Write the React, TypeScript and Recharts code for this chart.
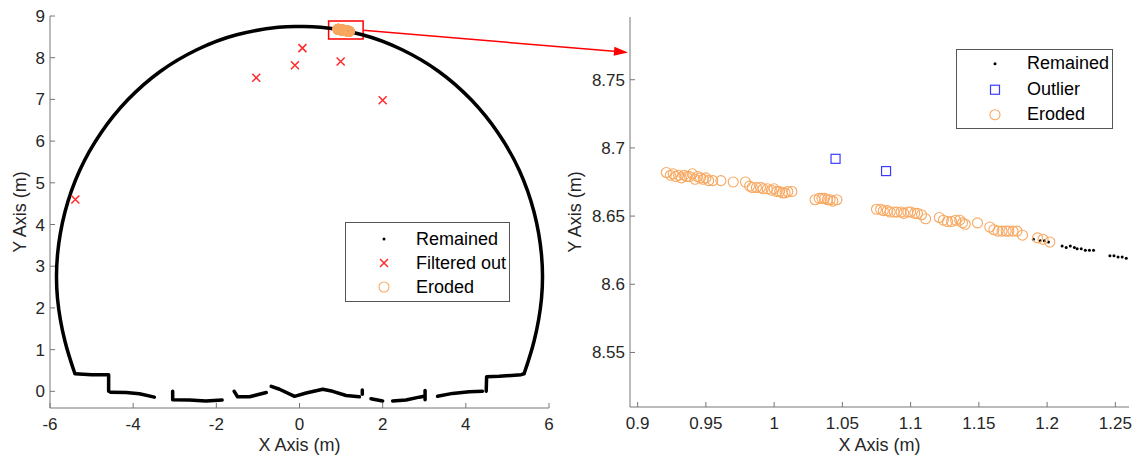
import React from 'react';
import { ScatterChart, Scatter, XAxis, YAxis, ReferenceArea } from 'recharts';

const FONT = '"Liberation Sans", Arial, Helvetica, sans-serif';
const TEXT = '#262626';
const AXIS = '#767676';
const ORANGE = '#f8a860';
const RED = '#ff2a2a';
const BLUE = '#3c3cff';

// ---- left panel: full tunnel cross-section (x, y in m) ----
const ARC: [number, number][] = [
  [-5.4, 0.42], [-5.64, 1.2], [-5.82, 2.23], [-5.82, 3.27], [-5.64, 4.3], [-5.29, 5.29],
  [-4.78, 6.19], [-4.13, 6.99], [-3.35, 7.67], [-2.47, 8.19], [-1.51, 8.55], [-0.51, 8.73],
  [0, 8.75], [0.51, 8.73], [1.51, 8.55], [2.47, 8.19], [3.35, 7.67], [4.13, 6.99],
  [4.78, 6.19], [5.29, 5.29], [5.64, 4.3], [5.82, 3.27], [5.82, 2.23], [5.64, 1.2], [5.4, 0.42],
];

const FLOOR: [number, number][][] = [
  [[-5.4, 0.42], [-5.0, 0.4], [-4.59, 0.4], [-4.59, 0.0]],
  [[-4.55, -0.02], [-4.17, -0.03], [-3.85, -0.06], [-3.49, -0.14]],
  [[-3.05, 0.0], [-3.05, -0.2], [-2.65, -0.21], [-2.25, -0.23], [-1.86, -0.21]],
  [[-1.57, 0.0], [-1.49, -0.13], [-1.2, -0.13], [-0.8, -0.03]],
  [[-0.68, 0.12], [-0.48, 0.05], [-0.12, -0.12], [0.16, -0.04], [0.56, 0.05], [0.8, 0.0], [1.12, -0.1], [1.44, -0.13]],
  [[1.51, 0.03], [1.51, -0.07]],
  [[1.72, -0.18], [2.0, -0.23]],
  [[2.24, -0.23], [2.56, -0.21], [2.88, -0.14], [3.0, -0.12]],
  [[3.02, 0.02], [3.02, -0.2]],
  [[3.32, -0.12], [3.68, -0.05], [4.08, -0.01], [4.4, 0.0]],
  [[4.49, 0.0], [4.5, 0.35], [4.8, 0.36], [5.33, 0.4], [5.4, 0.42]],
];

const FILTERED: [number, number][] = [
  [-5.39, 4.6], [-1.04, 7.52], [-0.11, 7.82], [0.07, 8.23], [0.99, 7.91], [2.0, 6.98],
];

// ---- right panel: zoomed crown region ----
const ERODED: [number, number][] = [
  [0.921, 8.682], [0.924, 8.68], [0.926, 8.681], [0.928, 8.679], [0.93, 8.68], [0.932, 8.678],
  [0.934, 8.68], [0.936, 8.679], [0.938, 8.679], [0.94, 8.681], [0.942, 8.677], [0.944, 8.679],
  [0.946, 8.678], [0.948, 8.677], [0.95, 8.678], [0.952, 8.676], [0.955, 8.676], [0.961, 8.676],
  [0.97, 8.675],
  [0.979, 8.675], [0.982, 8.672], [0.984, 8.671], [0.987, 8.671], [0.99, 8.671], [0.992, 8.67],
  [0.995, 8.67], [0.998, 8.669], [1.0, 8.67], [1.002, 8.668], [1.004, 8.668], [1.006, 8.667],
  [1.008, 8.667], [1.01, 8.668], [1.013, 8.668],
  [1.03, 8.662], [1.033, 8.663], [1.035, 8.663], [1.037, 8.663], [1.039, 8.662], [1.041, 8.662],
  [1.043, 8.661], [1.046, 8.662],
  [1.075, 8.655], [1.078, 8.655], [1.08, 8.654], [1.083, 8.654], [1.085, 8.653], [1.088, 8.653],
  [1.09, 8.653], [1.093, 8.653], [1.095, 8.652], [1.098, 8.653], [1.1, 8.653], [1.103, 8.652],
  [1.105, 8.652], [1.108, 8.651], [1.111, 8.648],
  [1.121, 8.649], [1.124, 8.647], [1.127, 8.646], [1.13, 8.646], [1.133, 8.647], [1.136, 8.647],
  [1.138, 8.645], [1.14, 8.644], [1.149, 8.645],
  [1.158, 8.642], [1.161, 8.64], [1.164, 8.639], [1.167, 8.639], [1.17, 8.639], [1.172, 8.639],
  [1.175, 8.639], [1.178, 8.639], [1.182, 8.636],
  [1.193, 8.634], [1.197, 8.633], [1.202, 8.631],
];

const OUTLIERS: [number, number][] = [[1.045, 8.692], [1.082, 8.683]];

const REMAINED_ZOOM: [number, number][] = [
  [1.19, 8.633], [1.195, 8.632], [1.198, 8.632], [1.201, 8.631],
  [1.211, 8.628], [1.214, 8.627], [1.217, 8.628], [1.22, 8.627], [1.222, 8.626], [1.225, 8.626],
  [1.228, 8.625], [1.231, 8.625], [1.234, 8.625],
  [1.246, 8.621], [1.249, 8.621], [1.252, 8.62], [1.255, 8.62], [1.258, 8.619],
];

const LEFT_X_DOMAIN = [-6, 6];
const LEFT_Y_DOMAIN = [-0.4, 9];
const LEFT_X_TICKS = [-6, -4, -2, 0, 2, 4, 6];
const LEFT_Y_TICKS = [0, 1, 2, 3, 4, 5, 6, 7, 8, 9];
const ZOOM_X_DOMAIN = [0.8944, 1.26];
const ZOOM_Y_DOMAIN = [8.51, 8.796];
const ZOOM_X_TICKS = [0.9, 0.95, 1, 1.05, 1.1, 1.15, 1.2, 1.25];
const ZOOM_Y_TICKS = [8.55, 8.6, 8.65, 8.7, 8.75];
const ZOOM_BOX = { x1: 0.7, x2: 1.53, y1: 8.45, y2: 8.88 };

const toPts = (arr: [number, number][]) => arr.map(([x, y]) => ({ x, y }));

// plot rectangle of the left panel in page pixels, used for the connector arrow
const LEFT_PLOT = { left: 50, right: 549, top: 16, bottom: 408 };
const leftPx = (x: number, y: number) => ({
  x: LEFT_PLOT.left + (x - LEFT_X_DOMAIN[0]) / (LEFT_X_DOMAIN[1] - LEFT_X_DOMAIN[0]) * (LEFT_PLOT.right - LEFT_PLOT.left),
  y: LEFT_PLOT.top + (LEFT_Y_DOMAIN[1] - y) / (LEFT_Y_DOMAIN[1] - LEFT_Y_DOMAIN[0]) * (LEFT_PLOT.bottom - LEFT_PLOT.top),
});

const tickStyle = { fill: TEXT, fontSize: 17, fontFamily: FONT };

const Dot = (p: any) => <circle cx={p.cx} cy={p.cy} r={1.5} fill="#000" />;
const Cross = (p: any) => (
  <path d={`M${p.cx - 4},${p.cy - 4}L${p.cx + 4},${p.cy + 4}M${p.cx - 4},${p.cy + 4}L${p.cx + 4},${p.cy - 4}`}
    stroke={RED} strokeWidth={1.5} fill="none" />
);
const Ring = (p: any) => <circle cx={p.cx} cy={p.cy} r={5} fill="none" stroke={ORANGE} strokeWidth={1.1} />;
const Square = (p: any) => (
  <rect x={p.cx - 4.5} y={p.cy - 4.5} width={9} height={9} fill="none" stroke={BLUE} strokeWidth={1.2} />
);
const Nothing = () => <g />;

const XTitle = (props: any) => {
  const { x, width } = props.viewBox;
  return <text x={x + width / 2} y={451} textAnchor="middle" fill={TEXT} fontSize={18} fontFamily={FONT}>X Axis (m)</text>;
};
const YTitle = (cx: number) => (props: any) => {
  const { y, height } = props.viewBox;
  const cy = y + height / 2;
  return (
    <text x={cx} y={cy} transform={`rotate(-90 ${cx} ${cy})`} textAnchor="middle" fill={TEXT} fontSize={18} fontFamily={FONT}>
      Y Axis (m)
    </text>
  );
};

const axisCommon = {
  type: 'number' as const,
  allowDataOverflow: true,
  interval: 0 as const,
  axisLine: { stroke: AXIS },
  tickLine: { stroke: AXIS },
  tickSize: -5,
};

function LegendBox({ left, top, width, height, pad, rows, gap }: any) {
  return (
    <div style={{
      position: 'absolute', left, top, width, height,
      border: `1px solid #555`, background: '#fff', boxSizing: 'border-box',
    }}>
      {rows.map((r: any, i: number) => (
        <div key={r.label} style={{ position: 'absolute', left: 0, top: pad + i * gap, height: gap, display: 'flex', alignItems: 'center' }}>
          <svg width={70} height={gap} style={{ display: 'block' }}>
            {r.marker(38, gap / 2)}
          </svg>
          <span style={{ fontFamily: FONT, fontSize: 18, color: '#000' }}>{r.label}</span>
        </div>
      ))}
    </div>
  );
}

const m = (Shape: any) => (cx: number, cy: number) => <Shape cx={cx} cy={cy} />;

export default function App() {
  const from = leftPx(ZOOM_BOX.x2, 8.66);
  const tip = { x: 628, y: 52.5 };
  const dx = tip.x - from.x, dy = tip.y - from.y;
  const len = Math.hypot(dx, dy);
  const ux = dx / len, uy = dy / len;
  const bx = tip.x - 14 * ux, by = tip.y - 14 * uy;
  const head = `${tip.x},${tip.y} ${bx - 4.5 * uy},${by + 4.5 * ux} ${bx + 4.5 * uy},${by - 4.5 * ux}`;

  return (
    <div style={{ position: 'absolute', left: 0, top: 0, width: 1137, height: 455, background: '#fff', overflow: 'hidden' }}>
      <div style={{ position: 'absolute', left: 0, top: 0 }}>
        <ScatterChart width={560} height={455} margin={{ top: 16, right: 11, bottom: 0, left: 0 }}>
          <XAxis xAxisId="b" dataKey="x" {...axisCommon} domain={LEFT_X_DOMAIN} ticks={LEFT_X_TICKS}
            height={47} tick={tickStyle} tickMargin={15} label={<XTitle />} />
          <XAxis xAxisId="t" orientation="top" {...axisCommon} domain={LEFT_X_DOMAIN} ticks={LEFT_X_TICKS}
            height={0} tick={false} />
          <YAxis yAxisId="l" dataKey="y" {...axisCommon} domain={LEFT_Y_DOMAIN} ticks={LEFT_Y_TICKS}
            width={50} tick={tickStyle} tickMargin={10} label={YTitle(26)} />
          <YAxis yAxisId="r" orientation="right" {...axisCommon} domain={LEFT_Y_DOMAIN} ticks={LEFT_Y_TICKS}
            width={0} tick={false} />
          <Scatter xAxisId="b" yAxisId="l" data={toPts(ARC)} shape={Nothing} lineJointType="natural"
            line={{ stroke: '#000', strokeWidth: 3.5 }} isAnimationActive={false} />
          {FLOOR.map((seg, i) => (
            <Scatter key={i} xAxisId="b" yAxisId="l" data={toPts(seg)} shape={Nothing}
              line={{ stroke: '#000', strokeWidth: 3.5, strokeLinecap: 'round', strokeLinejoin: 'round' }}
              isAnimationActive={false} />
          ))}
          <Scatter xAxisId="b" yAxisId="l" data={toPts(FILTERED)} shape={Cross} isAnimationActive={false} />
          <Scatter xAxisId="b" yAxisId="l" data={toPts(ERODED)} shape={Ring} isAnimationActive={false} />
          <ReferenceArea xAxisId="b" yAxisId="l" {...ZOOM_BOX} fill="none" stroke="#ff0000" strokeWidth={1.5}
            ifOverflow="visible" />
        </ScatterChart>
      </div>

      <div style={{ position: 'absolute', left: 560, top: 0 }}>
        <ScatterChart width={577} height={455} margin={{ top: 17, right: 8, bottom: 0, left: 0 }}>
          <XAxis xAxisId="b" dataKey="x" {...axisCommon} domain={ZOOM_X_DOMAIN} ticks={ZOOM_X_TICKS}
            height={48} tick={tickStyle} tickMargin={15} label={<XTitle />} />
          <XAxis xAxisId="t" orientation="top" {...axisCommon} domain={ZOOM_X_DOMAIN} ticks={ZOOM_X_TICKS}
            height={0} tick={false} />
          <YAxis yAxisId="l" dataKey="y" {...axisCommon} domain={ZOOM_Y_DOMAIN} ticks={ZOOM_Y_TICKS}
            width={70} tick={tickStyle} tickMargin={10} label={YTitle(21)} />
          <YAxis yAxisId="r" orientation="right" {...axisCommon} domain={ZOOM_Y_DOMAIN} ticks={ZOOM_Y_TICKS}
            width={0} tick={false} />
          <Scatter xAxisId="b" yAxisId="l" data={toPts(REMAINED_ZOOM)} shape={Dot} isAnimationActive={false} />
          <Scatter xAxisId="b" yAxisId="l" data={toPts(OUTLIERS)} shape={Square} isAnimationActive={false} />
          <Scatter xAxisId="b" yAxisId="l" data={toPts(ERODED)} shape={Ring} isAnimationActive={false} />
        </ScatterChart>
      </div>

      <LegendBox left={345} top={222} width={165} height={80} pad={4} gap={24} rows={[
        { label: 'Remained', marker: m(Dot) },
        { label: 'Filtered out', marker: m(Cross) },
        { label: 'Eroded', marker: m(Ring) },
      ]} />
      <LegendBox left={956} top={49} width={157} height={80} pad={1} gap={25.5} rows={[
        { label: 'Remained', marker: m(Dot) },
        { label: 'Outlier', marker: m(Square) },
        { label: 'Eroded', marker: m(Ring) },
      ]} />

      <svg width={1137} height={455} style={{ position: 'absolute', left: 0, top: 0, pointerEvents: 'none' }}>
        <line x1={from.x} y1={from.y} x2={bx} y2={by} stroke="#ff0000" strokeWidth={1.5} />
        <polygon points={head} fill="#ff0000" />
      </svg>
    </div>
  );
}
